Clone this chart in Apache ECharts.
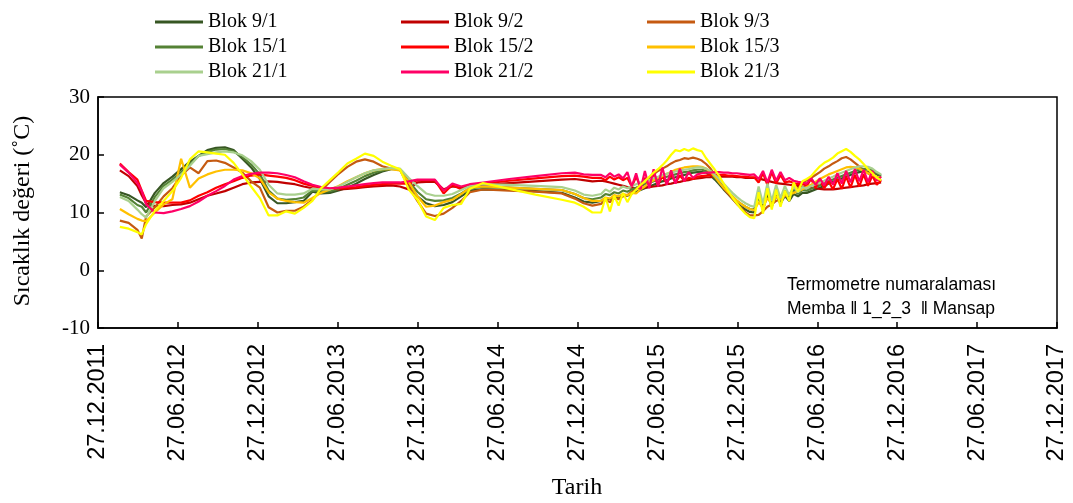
<!DOCTYPE html>
<html>
<head>
<meta charset="utf-8">
<title>Sıcaklık değeri</title>
<script src="https://cdn.jsdelivr.net/npm/echarts@6/dist/echarts.min.js"></script>
<style>
  html,body{margin:0;padding:0;background:#fff;}
  #chart{width:1073px;height:503px;}
</style>
</head>
<body>
<div id="chart"></div>
<script>
// gün: 27.12.2011'den itibaren geçen gün sayısı
const gunler = [50,70,90,100,110,130,150,170,190,210,230,250,270,290,310,330,350,370,
  390,410,430,450,470,490,510,530,550,570,590,610,630,650,670,690,710,730,750,
  770,790,810,830,850,880,940,1000,1060,1090,1110,1130,
  1150,1160,1170,1180,1190,1200,1210,1220,1230,1240,1250,1260,1270,1280,1290,1300,1310,1320,1330,1340,
  1350,1360,1370,1380,1390,1400,1410,1420,1430,1440,1450,1460,1470,1480,1490,
  1500,1510,1520,1530,1540,1550,1560,1570,1580,1590,1600,1610,1620,1630,1640,1650,1660,1670,1680,1690,
  1700,1710,1720,1730,1740,1750,1760,1770,1780,1790];

const xTickLabels = ['27.12.2011','27.06.2012','27.12.2012','27.06.2013','27.12.2013','27.06.2014',
  '27.12.2014','27.06.2015','27.12.2015','27.06.2016','27.12.2016','27.06.2017','27.12.2017'];

const blok9_1 = [13.5,13.0,12.1,11.7,10.9,13.4,15.1,16.2,17.5,18.8,19.8,20.8,21.2,21.3,20.8,19.3,17.8,15.8,
  12.8,11.6,11.6,11.8,12.0,13.6,13.3,13.4,13.8,14.3,15.0,15.8,16.5,17.1,17.5,17.5,15.0,12.8,11.6,
  11.1,11.3,11.8,12.8,13.8,14.0,13.9,13.7,13.4,12.6,11.9,11.7,
  12.0,12.5,12.3,12.8,12.6,13.0,12.9,13.3,13.6,13.9,14.2,14.5,14.8,15.1,15.4,15.6,15.9,16.1,16.3,16.5,
  16.7,16.9,17.0,17.0,16.9,16.4,15.7,14.9,14.0,13.2,12.4,11.6,11.0,10.5,10.1,
  10.0,12.8,10.5,13.2,11.0,13.0,11.5,12.9,12.0,13.2,12.8,13.4,13.4,13.7,14.0,14.3,14.6,15.0,15.3,15.6,
  15.9,16.2,16.5,16.8,17.0,17.1,17.1,17.0,16.6,16.2];

const blok9_2 = [17.3,16.3,14.6,13.0,11.6,11.1,11.1,11.3,11.4,11.7,12.3,12.9,13.3,13.7,14.3,14.9,15.2,15.3,
  15.4,15.3,15.1,14.9,14.5,14.2,14.0,14.0,14.0,14.1,14.2,14.4,14.5,14.6,14.7,14.5,14.0,15.2,15.3,
  15.3,14.0,14.5,14.3,14.6,14.8,15.1,15.4,15.7,15.8,15.6,15.4,
  15.5,15.4,15.2,15.0,14.8,14.6,14.4,14.3,14.2,14.2,14.3,14.4,14.5,14.6,14.7,14.9,15.0,15.2,15.3,15.5,
  15.6,15.8,15.9,16.0,16.1,16.1,16.2,16.2,16.2,16.2,16.2,16.1,16.1,16.0,16.0,
  16.0,15.9,15.7,15.5,15.3,15.1,15.0,14.9,14.8,14.7,14.6,14.5,14.4,14.3,14.2,14.1,14.0,14.0,14.0,14.1,
  14.2,14.3,14.4,14.5,14.6,14.7,14.9,15.0,15.1,15.2];

const blok9_3 = [8.6,8.2,7.0,5.5,9.3,10.9,12.8,14.2,16.4,17.8,16.8,18.9,19.0,18.6,17.8,16.9,15.4,14.3,
  10.9,10.0,10.3,10.3,11.0,12.2,13.8,15.3,16.7,17.9,18.8,19.2,18.8,18.0,17.6,17.4,14.5,12.0,9.8,
  9.4,9.8,10.8,12.0,13.5,14.0,13.8,13.6,13.3,12.4,11.6,11.2,
  11.5,12.2,11.8,12.5,12.3,12.8,13.0,13.6,14.2,14.8,15.3,16.0,16.6,17.2,17.6,18.0,18.5,18.9,19.1,19.4,
  19.3,19.5,19.3,19.0,18.4,17.6,16.5,15.3,14.2,13.3,12.4,11.5,10.8,10.0,9.5,
  9.5,9.6,10.2,11.0,11.4,12.0,12.3,12.8,13.2,13.8,14.2,15.0,15.6,16.0,16.5,17.0,17.6,18.0,18.5,18.9,
  19.4,19.6,19.2,18.6,18.0,17.4,16.8,16.3,15.8,15.5];

const blok15_1 = [13.1,12.5,11.3,11.0,10.0,12.7,14.6,15.7,17.0,18.4,19.8,20.5,20.9,21.0,20.6,19.6,18.3,16.6,
  13.8,12.4,12.2,12.3,12.6,13.8,13.6,13.7,14.1,14.8,15.5,16.3,16.9,17.3,17.6,17.5,15.4,13.6,12.3,
  12.0,12.1,12.5,13.3,14.2,14.4,14.3,14.1,13.9,13.2,12.5,12.3,
  12.6,13.2,13.0,13.5,13.3,13.8,13.6,14.0,14.3,14.6,14.9,15.1,15.4,15.7,16.0,16.2,16.4,16.6,16.8,17.0,
  17.1,17.3,17.4,17.4,17.2,16.7,16.0,15.2,14.4,13.6,12.8,12.0,11.5,11.0,10.6,
  10.5,13.8,11.0,14.2,11.6,14.0,12.0,13.8,12.6,13.9,13.2,13.9,13.8,14.1,14.4,14.7,15.0,15.4,15.7,16.0,
  16.3,16.6,16.9,17.2,17.4,17.5,17.5,17.3,16.8,16.4];

const blok15_2 = [18.5,17.0,15.7,13.8,12.0,11.8,11.7,11.7,11.7,12.1,12.9,13.5,14.3,14.9,15.4,16.0,16.4,16.6,
  16.4,16.2,16.0,15.6,15.0,14.6,14.3,14.1,14.2,14.3,14.4,14.6,14.8,14.9,15.0,15.0,15.0,15.6,15.6,
  15.6,13.3,14.8,14.0,14.8,15.0,15.5,15.9,16.3,16.4,16.2,16.0,
  16.0,15.6,16.2,15.7,16.1,15.6,16.0,14.5,16.2,14.4,16.0,14.6,16.5,14.8,16.3,15.0,16.6,15.2,16.4,15.5,
  16.0,15.8,16.2,16.3,16.4,16.5,16.5,16.5,16.5,16.4,16.4,16.3,16.2,16.2,16.1,
  16.1,15.2,16.8,14.8,17.0,15.0,16.5,15.2,15.4,15.1,14.9,15.0,14.6,15.8,14.3,15.6,14.2,15.4,14.0,15.8,
  14.1,16.2,14.3,16.5,14.5,16.6,14.6,16.4,14.8,15.6];

const blok15_3 = [10.6,9.7,8.9,8.6,8.5,10.0,11.4,12.3,19.3,14.3,15.9,16.6,17.1,17.4,17.4,17.3,16.8,15.9,
  13.5,12.4,12.0,11.8,11.7,12.5,13.4,14.0,14.6,15.4,16.1,16.8,17.3,17.5,17.5,17.3,15.3,12.8,11.0,
  11.2,11.8,12.2,13.2,14.3,14.5,14.3,14.1,13.9,13.2,12.5,12.0,
  12.0,12.6,12.4,13.0,12.8,13.2,13.0,13.4,13.3,14.0,14.5,15.2,15.6,16.0,16.3,16.7,17.0,17.4,17.6,17.8,
  17.9,18.0,18.0,17.9,17.6,17.0,16.2,15.2,14.3,13.5,12.8,12.1,11.5,11.0,10.6,
  10.4,11.8,10.8,12.5,11.5,12.8,12.2,13.0,13.1,13.4,13.7,14.0,14.4,14.8,15.3,15.8,16.2,16.6,16.9,17.2,
  17.5,17.8,17.9,17.8,17.6,17.2,16.8,16.5,16.2,16.0];

const blok21_1 = [12.7,12.0,10.5,9.7,9.1,12.0,14.2,15.3,16.6,18.1,19.8,20.1,20.4,20.6,20.4,19.9,18.9,17.4,
  14.8,13.3,13.1,13.1,13.3,14.1,14.0,14.0,14.5,15.3,16.1,16.8,17.3,17.5,17.7,17.6,16.0,14.6,13.3,
  12.9,12.9,13.2,13.9,14.6,14.9,14.8,14.6,14.4,13.8,13.1,12.9,
  13.2,14.0,13.6,14.3,14.0,14.5,14.2,14.6,14.9,15.2,15.5,15.6,16.0,16.2,16.5,16.7,16.9,17.1,17.3,17.4,
  17.5,17.7,17.8,17.8,17.6,17.2,16.5,15.8,15.0,14.2,13.4,12.7,12.1,11.6,11.2,
  11.0,14.5,11.5,15.0,12.0,14.8,12.5,14.6,13.0,14.5,13.5,14.4,14.2,14.6,14.9,15.2,15.5,15.9,16.2,16.6,
  16.9,17.2,17.5,17.8,18.0,18.0,17.9,17.6,17.0,16.6];

const blok21_2 = [18.3,16.9,15.1,13.7,11.4,10.0,9.9,10.2,10.6,11.1,11.9,12.9,13.7,14.6,15.7,16.3,16.7,16.9,
  16.9,16.8,16.5,16.1,15.4,14.8,14.4,14.2,14.3,14.5,14.7,14.9,15.1,15.2,15.2,15.2,15.4,15.7,15.7,
  15.7,13.8,15.0,14.5,14.9,15.2,15.8,16.3,16.8,16.9,16.6,16.5,
  16.5,16.1,16.8,16.2,16.6,15.9,17.0,14.5,16.8,14.0,17.2,14.2,17.5,14.5,17.8,14.8,17.3,15.0,17.6,15.4,
  17.0,16.0,16.6,16.8,16.9,16.9,17.0,17.0,16.9,16.9,16.8,16.8,16.7,16.6,16.5,
  16.6,15.8,17.2,15.2,17.4,15.5,17.0,15.6,16.0,15.5,15.3,15.2,15.0,16.0,14.8,15.9,14.7,16.2,14.8,16.8,
  15.0,17.2,15.2,17.5,15.4,17.4,15.3,17.2,15.5,16.2];

const blok21_3 = [7.5,7.2,6.6,6.2,8.0,10.3,12.0,13.7,16.0,19.2,20.6,20.4,20.2,20.0,18.6,16.6,14.5,12.5,
  9.5,9.5,10.2,9.8,10.8,12.0,14.2,15.6,17.0,18.5,19.3,20.2,19.8,18.8,18.1,17.5,14.0,12.2,9.3,
  8.7,10.8,11.3,11.5,14.1,15.1,14.1,13.1,12.2,11.7,11.0,10.0,
  10.0,12.6,10.2,12.9,11.2,13.4,11.8,13.2,14.0,14.8,15.4,16.2,16.9,17.5,18.2,19.0,20.0,20.8,20.6,21.0,
  20.7,21.1,20.8,20.6,19.4,18.4,17.4,16.3,15.0,13.8,12.6,11.6,10.6,9.8,9.2,
  9.0,13.5,9.8,14.2,10.5,14.0,11.0,13.8,12.0,15.2,13.6,15.4,15.8,16.3,17.2,18.0,18.6,19.0,19.5,20.2,
  20.6,21.0,20.5,19.8,19.2,18.4,17.5,16.8,16.0,15.6];

const seriesNames = ['Blok 9/1','Blok 9/2','Blok 9/3','Blok 15/1','Blok 15/2','Blok 15/3','Blok 21/1','Blok 21/2','Blok 21/3'];
const seriesValues = [blok9_1,blok9_2,blok9_3,blok15_1,blok15_2,blok15_3,blok21_1,blok21_2,blok21_3];
const seriesColors = ['#375623','#C00000','#C55A11','#548235','#FF0000','#FFC000','#A9D08E','#FF0066','#FFFF00'];

const HALF_YEAR = 2192/12; // eksen birimi: yarım yıl (gün)
const SERIF = '"Liberation Serif","Times New Roman",serif';
const SANS = '"Liberation Sans",Arial,sans-serif';

const chart = echarts.init(document.getElementById('chart'), null, {renderer:'canvas'});

function legendCol(names, left){
  return {
    data:names, orient:'vertical', left:left, top:7,
    icon:'rect', itemWidth:48, itemHeight:3, itemGap:5,
    textStyle:{fontFamily:SERIF, fontSize:20, color:'#000'}
  };
}

const series = seriesNames.map((name,k)=>({
  name:name, type:'line', symbol:'none',
  data:gunler.map((d,i)=>[d/HALF_YEAR, seriesValues[k][i]]),
  lineStyle:{color:seriesColors[k], width:2.2},
  itemStyle:{color:seriesColors[k]}
}));

chart.setOption({
  animation:false,
  backgroundColor:'#fff',
  grid:{left:98, right:16, top:97, bottom:175, containLabel:false, outerBoundsMode:'none',
    show:true, borderColor:'#000', borderWidth:1.5},
  legend:[
    legendCol(['Blok 9/1','Blok 15/1','Blok 21/1'], 150),
    legendCol(['Blok 9/2','Blok 15/2','Blok 21/2'], 396),
    legendCol(['Blok 9/3','Blok 15/3','Blok 21/3'], 642)
  ],
  xAxis:{
    type:'value', min:0, max:12, interval:1,
    axisLine:{onZero:false, lineStyle:{color:'#000', width:1.5}},
    axisTick:{inside:true, length:6, lineStyle:{color:'#000', width:1.5}},
    axisLabel:{rotate:90, margin:16, fontFamily:SANS, fontSize:23.5, color:'#000',
      formatter:v=>xTickLabels[Math.round(v)] || ''},
    splitLine:{show:false}
  },
  yAxis:{
    type:'value', min:-10, max:30, interval:10,
    axisLine:{show:true, onZero:false, lineStyle:{color:'#000', width:1.5}},
    axisTick:{show:true, inside:true, length:6, lineStyle:{color:'#000', width:1.5}},
    axisLabel:{margin:8, fontFamily:SERIF, fontSize:21, color:'#000'},
    splitLine:{show:false}
  },
  graphic:[
    // eksen başlıkları
    {type:'text', x:577, y:488, style:{text:'Tarih', fontFamily:SERIF, fontSize:24, fill:'#000',
      align:'center', verticalAlign:'middle'}},
    {type:'text', x:23, y:211, rotation:Math.PI/2, style:{text:'Sıcaklık değeri (˚C)', fontFamily:SERIF,
      fontSize:24, fill:'#000', align:'center', verticalAlign:'middle'}},
    // termometre notu
    {type:'text', left:787, top:276, style:{text:'Termometre numaralaması', fontFamily:SANS, fontSize:17.5, fill:'#000'}},
    {type:'text', left:787, top:300, style:{text:'Memba ‖ 1_2_3  ‖ Mansap', fontFamily:SANS, fontSize:17.5, fill:'#000'}}
  ],
  series:series
});
</script>
</body>
</html>
